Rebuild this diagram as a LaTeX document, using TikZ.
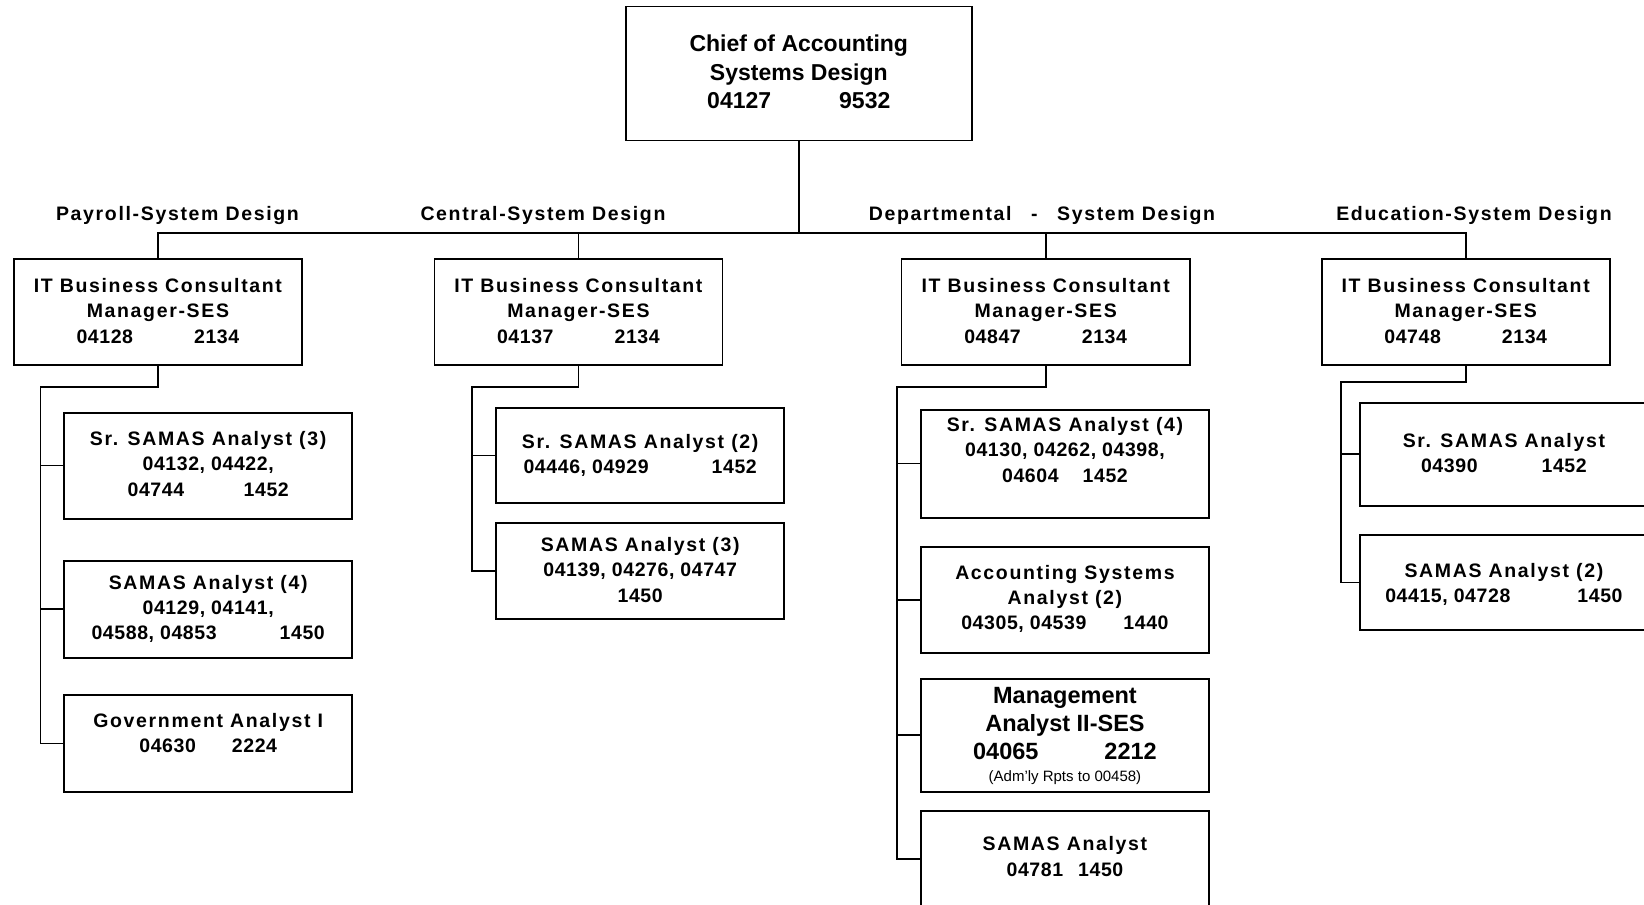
\documentclass[tikz,border=0pt]{standalone}
\usepackage{fontspec}
\setmainfont{Liberation Sans}
\newfontfamily\rolefont{Liberation Sans}[LetterSpace=8.5]
\newfontfamily\codefont{Liberation Sans}[LetterSpace=3]
\newcommand\role[1]{{\rolefont\bfseries #1}}
\newcommand\codes[1]{{\codefont\bfseries #1}}

\begin{document}
\begin{tikzpicture}[x=1pt,y=-1pt,
  post/.style={draw=black, line width=1.8pt, fill=white, inner sep=0pt,
               anchor=north west, minimum width=288pt},
  txt/.style={inner sep=0pt, align=center, anchor=north,
              font=\fontsize{19.5}{25.3}\selectfont},
  mgr/.style={txt, font=\fontsize{19.5}{25.8}\selectfont},
  lab/.style={inner sep=0pt, anchor=base,
              font=\fontsize{19.5}{23}\selectfont\rolefont\bfseries},
  wire/.style={line width=1.7pt, line cap=rect}]

\useasboundingbox (0,0) rectangle (1644,905);
\fill[white] (0,0) rectangle (1644,905);
\clip (0,0) rectangle (1644,905);

% ---- head of the unit ----
\node[post, minimum width=345.8pt, minimum height=134pt] (chief) at (625,5.5) {};
\node[txt, font=\fontsize{23}{28.5}\selectfont\bfseries, yshift=-29.5pt] (chiefT) at (chief.north)
  {Chief of Accounting\\Systems Design\\04127\hspace{68pt}9532};

% ---- section captions ----
\node[lab] (labP) at (177.5,220.7) {Payroll-System Design};
\node[lab] (labC) at (543,220.7) {Central-System Design};
\node[lab] (labD) at (1042,220.7) {Departmental\hspace{19.5pt}-\hspace{19.5pt}System Design};
\node[lab] (labE) at (1474,220.7) {Education-System Design};

% ---- section managers ----
\node[post, minimum height=106pt] (m1) at (13,257.7) {};
\node[post, minimum height=106pt] (m2) at (433.5,257.7) {};
\node[post, minimum height=106pt, minimum width=288.5pt] (m3) at (900.5,257.7) {};
\node[post, minimum height=106pt] (m4) at (1320.8,257.7) {};
\node[mgr, yshift=-20pt] (m1T) at (m1.north)
  {\role{IT Business Consultant}\\\role{Manager-SES}\\\codes{04128\hspace{61pt}2134}};
\node[mgr, yshift=-20pt] (m2T) at (m2.north)
  {\role{IT Business Consultant}\\\role{Manager-SES}\\\codes{04137\hspace{61pt}2134}};
\node[mgr, yshift=-20pt] (m3T) at (m3.north)
  {\role{IT Business Consultant}\\\role{Manager-SES}\\\codes{04847\hspace{61pt}2134}};
\node[mgr, yshift=-20pt] (m4T) at (m4.north)
  {\role{IT Business Consultant}\\\role{Manager-SES}\\\codes{04748\hspace{61pt}2134}};

% ---- payroll staff ----
\node[post, minimum height=106pt] (p1) at (63.3,411.7) {};
\node[txt, yshift=-19.5pt] (p1T) at (p1.north)
  {\role{Sr. SAMAS Analyst (3)}\\\codes{04132, 04422,}\\\codes{04744\hspace{59.5pt}1452}};
\node[post, minimum height=96.7pt] (p2) at (63.3,560) {};
\node[txt, yshift=-15pt] (p2T) at (p2.north)
  {\role{SAMAS Analyst (4)}\\\codes{04129, 04141,}\\\codes{04588, 04853\hspace{63pt}1450}};
\node[post, minimum height=96.7pt] (p3) at (63.3,694.3) {};
\node[txt, yshift=-19pt] (p3T) at (p3.north)
  {\role{Government Analyst I}\\\codes{04630\hspace{36pt}2224}};

% ---- central staff ----
\node[post, minimum height=95.6pt] (c1) at (495.3,406.7) {};
\node[txt, yshift=-27.6pt] (c1T) at (c1.north)
  {\role{Sr. SAMAS Analyst (2)}\\\codes{04446, 04929\hspace{63pt}1452}};
\node[post, minimum height=96.3pt] (c2) at (495.3,521.7) {};
\node[txt, yshift=-15.6pt] (c2T) at (c2.north)
  {\role{SAMAS Analyst (3)}\\\codes{04139, 04276, 04747}\\\codes{1450}};

% ---- departmental staff ----
\node[post, minimum height=108pt, minimum width=288.5pt] (d1) at (919.8,408.7) {};
\node[txt, yshift=-8.6pt] (d1T) at (d1.north)
  {\role{Sr. SAMAS Analyst (4)}\\\codes{04130, 04262, 04398,}\\\codes{04604\hspace{24pt}1452}};
\node[post, minimum height=105.4pt, minimum width=288.5pt] (d2) at (919.8,546.3) {};
\node[txt, yshift=-18.7pt] (d2T) at (d2.north)
  {\role{Accounting Systems}\\\role{Analyst (2)}\\\codes{04305, 04539\hspace{37pt}1440}};
\node[post, minimum height=112.7pt, minimum width=288.5pt] (d3) at (919.8,678) {};
\node[txt, font=\fontsize{23.5}{28.2}\selectfont\bfseries, yshift=-8.7pt] (d3T) at (d3.north)
  {Management\\Analyst II-SES\\04065\hspace{66pt}2212};
\node[inner sep=0pt, anchor=base, font=\fontsize{15}{18}\selectfont, yshift=-103.7pt] (d3N) at (d3.north)
  {(Adm'ly Rpts to 00458)};
\node[post, minimum height=96.3pt, minimum width=288.5pt] (d4) at (919.8,809.7) {};
\node[txt, yshift=-26.8pt] (d4T) at (d4.north)
  {\role{SAMAS Analyst}\\\codes{04781\hspace{15pt}1450}};

% ---- education staff ----
\node[post, minimum height=103.3pt] (e1) at (1359,401.7) {};
\node[txt, yshift=-31.6pt] (e1T) at (e1.north)
  {\role{Sr. SAMAS Analyst}\\\codes{04390\hspace{64pt}1452}};
\node[post, minimum height=95.3pt] (e2) at (1359,534) {};
\node[txt, yshift=-29.3pt] (e2T) at (e2.north)
  {\role{SAMAS Analyst (2)}\\\codes{04415, 04728\hspace{67pt}1450}};

% ---- reporting lines ----
\coordinate (bus) at (0,233);
\draw[wire] (chief.south) -- (chief.south |- bus);
\draw[wire] (m1.north) |- (m4.north |- bus) -- (m4.north);
\draw[wire] (m2.north) -- (m2.north |- bus);
\draw[wire] (m3.north) -- (m3.north |- bus);

\coordinate (pj) at (40.5,387);
\draw[wire] (m1.south) |- (pj) |- (p3.west);
\draw[wire] (p1.west) -- (p1.west -| pj);
\draw[wire] (p2.west) -- (p2.west -| pj);

\coordinate (cj) at (472.3,387);
\draw[wire] (m2.south) |- (cj) |- (c2.west);
\draw[wire] (c1.west) -- (c1.west -| cj);

\coordinate (dj) at (897.2,386.7);
\draw[wire] (m3.south) |- (dj) |- (d4.west);
\draw[wire] (d1.west) -- (d1.west -| dj);
\draw[wire] (d2.west) -- (d2.west -| dj);
\draw[wire] (d3.west) -- (d3.west -| dj);

\coordinate (ej) at (1340.7,381.7);
\draw[wire] (m4.south) |- (ej) |- (e2.west);
\draw[wire] (e1.west) -- (e1.west -| ej);
\end{tikzpicture}
\end{document}
